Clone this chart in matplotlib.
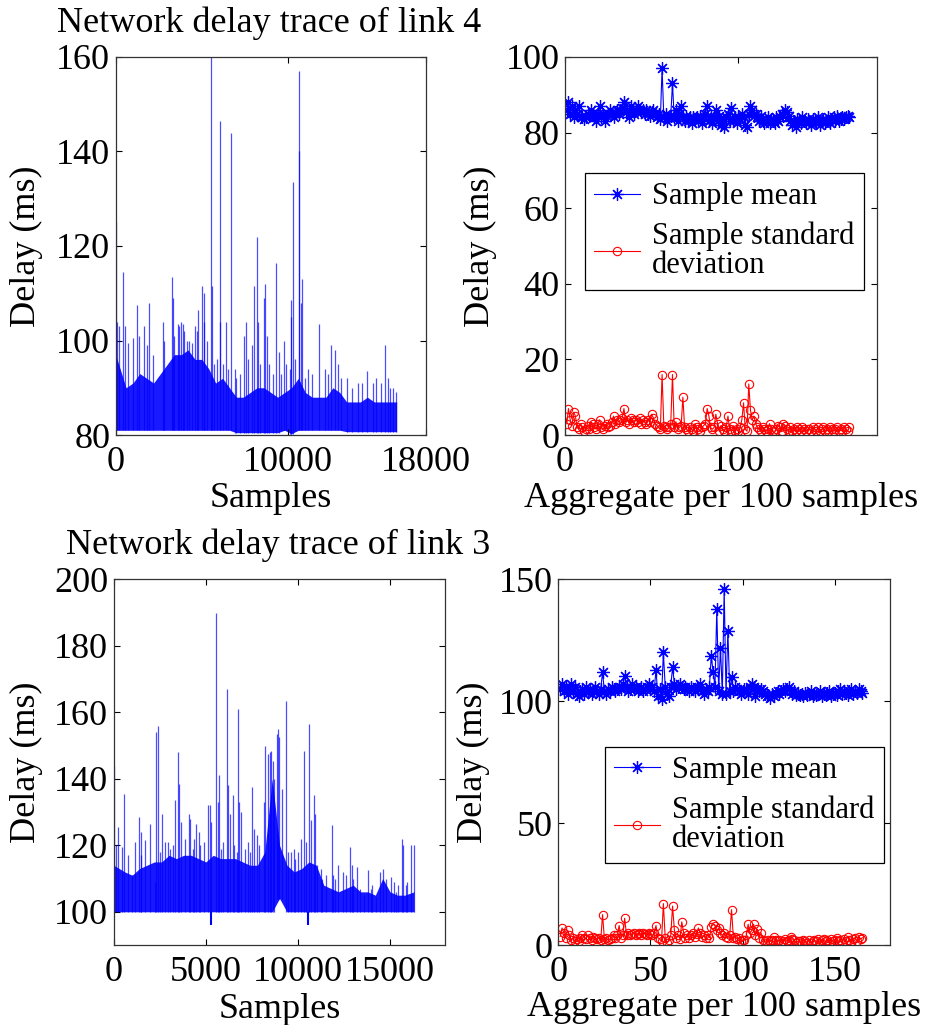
import numpy as np
import matplotlib
matplotlib.use('Agg')
import matplotlib.pyplot as plt

plt.rcParams['font.family'] = ['Liberation Serif', 'DejaVu Serif']
plt.rcParams['mathtext.default'] = 'regular'

# ---------------- link 4 raw trace ----------------
n_samples4 = 16300
bin_w = 400
# typical band top / bottom per 400-sample block
band_top4 = [97, 90, 91, 93, 92, 91, 93, 95, 97, 97, 98, 96, 96, 94, 91, 92, 90, 88, 88, 89, 90,
             90, 89, 88, 89, 90, 92, 89, 88, 88, 88, 90, 89, 87, 87, 87, 88, 87, 87, 87, 87]
band_lo4 = [81, 81, 81, 81, 81, 81, 81, 81, 81, 81, 81, 81, 81, 81, 81, 81, 81, 80.5, 80.5, 80.5, 80.5,
            80.5, 80.5, 80.5, 81, 80.3, 81, 81, 81, 81, 81, 81, 81, 80.7, 80.7, 80.7, 80.7, 80.7, 80.7, 80.7, 80.7]
# spikes sticking out of the band: sample index, delay
spike_x4 = [0, 60, 180, 444, 520, 733, 1023, 1255, 1370, 1640, 1795, 1930, 2180, 2720, 2800, 3243,
            3300, 3400, 3590, 3700, 3780, 3880, 3950, 4110, 4250, 4400, 4590, 4700, 4790, 4980, 5115,
            5150, 5300, 5520, 5580, 5700, 5900, 6040, 6080, 6200, 6390, 6500, 6680, 6910, 7000, 7200,
            7450, 7550, 7700, 7900, 8010, 8205, 8230, 8400, 8630, 8670, 8770, 8900, 9100, 9285, 9480,
            9600, 9750, 9900, 10100, 10155, 10190, 10290, 10400, 10620, 10640, 10730, 10830, 11000,
            11150, 11400, 11800, 12120, 12300, 12470, 12700, 12900, 13100, 13400, 13700, 14050, 14300,
            14600, 14900, 15100, 15400, 15640, 15800, 15900, 16100, 16280]
spike_y4 = [125, 104, 103, 114.5, 103, 99.5, 100.5, 107.5, 101, 103, 99, 108, 97, 104, 100, 113.5,
            109, 101, 103.5, 103, 104, 103.5, 102, 100, 100, 99.5, 103, 102, 106.5, 111.5, 110,
            104, 100, 160, 111.5, 95, 96, 146.5, 104, 95, 104, 94, 144, 94, 92, 93,
            101, 104, 96, 99, 111.5, 122, 104, 95, 109, 112, 101, 95, 93, 116.5, 97.5,
            93, 100, 95, 94, 105, 108.5, 133.5, 96, 140, 157, 108, 113, 92,
            94, 93, 103.5, 94, 93, 99, 98, 95, 92, 92, 90, 91, 91,
            93.5, 91, 92, 91, 99, 92, 90, 90, 89]

# ---------------- link 3 raw trace ----------------
n_samples3 = 16300
band_top3 = [114, 112, 111, 113, 114, 115, 115, 117, 116, 117, 117, 116, 115, 117, 116, 116, 116, 115,
             114, 114, 118, 140, 120, 114, 112, 113, 115, 114, 108, 107, 106, 107, 108, 106, 106, 105,
             110, 106, 105, 105, 106]
band_lo3 = [100] * 22 + [104] + [100] * 18
spike_x3 = [36, 100, 254, 453, 562, 800, 980, 1160, 1360, 1487, 1500, 1705, 1977, 2250, 2303, 2376,
            2500, 2612, 2793, 2940, 3060, 3200, 3319, 3482, 3536, 3663, 3880, 4062, 4153, 4300, 4334,
            4480, 4606, 4700, 4900, 5096, 5205, 5278, 5568, 5640, 5713, 5800, 5930, 6148, 6220, 6293,
            6456, 6510, 6700, 6764, 6819, 6910, 7100, 7272, 7400, 7508, 7635, 7780, 7900, 8143, 8233,
            8360, 8469, 8542, 8650, 8720, 8868, 8923, 8995, 9158, 9358, 9450, 9600, 9800, 9830, 10000,
            10192, 10355, 10460, 10609, 10718, 10863, 10918, 11050, 11226, 11330, 11500, 11824, 11900,
            12000, 12170, 12440, 12600, 12822, 12950, 13000, 13185, 13370, 13590, 13819, 13950, 14000,
            14220, 14450, 14635, 14760, 15034, 15200, 15300, 15450, 15633, 15700, 15850, 15940, 16158, 16290]
spike_y3 = [144, 120, 125.5, 119.5, 135.5, 117, 111, 121, 128.5, 124, 117, 121.5, 126.5, 109, 154, 156,
            118, 129.5, 121, 121, 119, 120, 133.5, 148, 138.5, 127, 122, 129.5, 128, 119, 122,
            126.5, 124, 120, 121, 132, 132, 127, 190, 133, 141, 119, 121, 167, 138, 129.5,
            135, 120, 118, 161, 133, 130, 119, 121, 118, 137.5, 125, 123, 120, 133, 150,
            147.5, 148, 148.5, 145.5, 140, 153.5, 155, 152.5, 137, 163.5, 118, 118, 119, 116, 118,
            122, 148.5, 121, 156.5, 127.5, 135, 129.5, 114, 113, 110, 111, 126, 111,
            110, 114, 112, 111, 119.5, 114, 110, 113.5, 107, 105, 112.5, 107, 108,
            104.5, 112, 113, 110, 110.5, 109, 106, 108, 122, 120, 108, 109, 120, 120]
dip_x3 = [5300, 10560]
dip_y3 = [96, 96]

# ---------------- aggregates per 100 samples ----------------
mean4 = [86, 88, 85, 87, 84, 86, 85, 87, 84, 84,
         83.5, 84, 85, 84.5, 86, 85, 84, 83, 85, 87,
         84, 85, 83, 84.5, 85, 86, 85, 84, 85.5, 86,
         85, 86, 86.5, 88, 85.5, 86, 84, 87, 86, 85,
         86, 87, 86, 85.5, 86, 85, 86, 85, 84.5, 85.5,
         86, 85, 84, 85, 83.5, 97, 84, 85, 83, 84,
         84.5, 93, 84, 86, 83, 85, 87, 84, 83, 84.5,
         83, 84, 82.5, 84, 83.5, 84, 83, 84.5, 82.5, 84,
         85, 87, 83, 84, 82.5, 84, 86, 83, 84.5, 82,
         83, 81.5, 84, 85, 83, 86.5, 83, 84, 82.5, 84,
         83.5, 85, 84, 82, 81.5, 85, 87, 86, 84.5, 85,
         84, 83, 84.5, 83, 82.5, 83, 84, 82.5, 83.5, 83,
         82.5, 84, 83, 84, 85, 84.5, 86, 85.5, 84.5, 83,
         82, 83, 81.5, 83.5, 83, 82.5, 84, 83, 82.5, 83.5,
         83, 82, 83.5, 83, 82.5, 84, 82, 83, 83.5, 82.5,
         83, 84, 82.5, 83.5, 84, 83, 84.5, 83, 83.5, 84,
         83.5, 84, 84.5, 84]
std4 = [3, 7, 4, 2.5, 6, 5, 2, 1.5, 3, 2,
        1, 1.5, 2.5, 1.5, 3.5, 3, 2, 1.5, 3, 4,
        2, 1.5, 2.5, 3, 2, 2.5, 3.5, 5, 3, 4,
        3.5, 4, 4.5, 7, 3.5, 4, 3, 4.5, 4, 3.5,
        4, 3.5, 4.5, 3, 4, 3.5, 3, 4, 3.5, 5.5,
        4.5, 3, 2.5, 2, 1.5, 16, 2.5, 2, 1.5, 2,
        3, 16, 2, 3.5, 1.5, 2, 2.5, 10, 2, 1.5,
        1, 2, 1.5, 1, 3, 2, 1.5, 1, 2, 2.5,
        3, 7, 5, 2, 1.5, 2, 5.5, 3, 1, 2.5,
        1.5, 1, 2, 5, 1.5, 1, 2.5, 1, 1.5, 1,
        2, 4, 8.5, 1.5, 1, 13.5, 6.5, 4, 5, 3,
        2, 1.5, 1, 2, 1.5, 1, 1.5, 3, 1.5, 1,
        1, 1.5, 2.5, 2, 1, 3, 2.5, 1.5, 1, 2,
        1, 1.5, 1, 2, 1.5, 1, 2, 1.5, 1, 1.5,
        1.5, 1, 2, 1.5, 1, 2, 1, 1.5, 2, 1,
        1.5, 1, 2, 1.5, 1, 1.5, 2, 1, 1.5, 1,
        2, 1.5, 1, 2]
mean3 = [105, 107, 104, 106, 103, 105, 107, 104, 106, 103,
         102, 104, 105, 103, 106, 104, 105, 103, 104, 106,
         104, 103, 105, 112, 104, 103, 105, 104, 106, 105,
         104, 105, 106, 105, 107, 110.5, 106, 104, 105, 107,
         105, 106, 104, 105, 106, 104, 105, 106, 107, 105,
         106, 104, 113, 102, 105, 101, 120, 106, 103, 102,
         106, 114, 107, 105, 106, 107, 106, 105, 106, 105,
         104, 106, 105, 104, 106, 105, 107, 104, 103, 105,
         104, 106, 118.5, 112, 106, 138, 104, 122, 103, 146,
         103, 129, 104, 110, 104, 106, 105, 104, 103, 104,
         105, 104, 103, 106, 107, 106, 102, 105, 104, 105,
         104, 103, 102, 102.5, 101.5, 103, 102, 103.5, 104, 103,
         104, 105, 104, 105, 106, 104, 103, 104, 102.5, 103,
         102.5, 103, 102, 103.5, 102.5, 103, 104, 102, 103, 102.5,
         103, 104, 102, 103, 102.5, 103.5, 104, 102, 103, 103.5,
         102.5, 104, 105, 103, 104, 103.5, 102.5, 104, 105, 103,
         104, 103.5, 105, 104, 103.5]
std3 = [3.5, 7, 5, 3, 6, 4, 2, 3, 1.5, 2.5,
        1.5, 3, 4, 3, 2.5, 4, 3, 2, 3.5, 3,
        2.5, 3, 2, 12.5, 2.5, 3, 2, 2.5, 3, 4,
        3, 4, 8, 3, 4, 11, 4, 5, 4, 4.5,
        5, 4, 4.5, 5, 4, 5, 4.5, 4, 5, 4.5,
        4, 5, 8, 3, 2.5, 1.5, 17, 3, 1, 2,
        4, 16, 6, 3, 4, 2.5, 9.5, 5, 3, 4,
        3, 4, 5, 3.5, 4.5, 7, 5, 3.5, 4, 3,
        4, 3, 7.5, 8.5, 8, 6, 7, 5, 4, 5,
        3.5, 3, 4, 14.5, 3, 3.5, 2.5, 3, 1.5, 2,
        2, 4, 8.5, 5, 6, 8.5, 4, 6.5, 3, 5,
        2, 1.5, 1, 2, 1.5, 2, 3.5, 2, 1.5, 2,
        1, 1.5, 2.5, 1.5, 2, 3.5, 2.5, 2, 1, 1.5,
        1.5, 1, 2, 1.5, 1, 2, 1, 1.5, 2, 1.5,
        2.5, 1, 2, 2.5, 1.5, 2, 1, 2.5, 1.5, 2,
        3, 1.5, 2, 1, 2.5, 1.5, 3.5, 2, 1, 2.5,
        3, 1.5, 3.5, 2.5, 3]

BLUE = '#0000ff'
RED = '#ff0000'
FS = 26
STAR = (8, 2, 0)  # matlab-like asterisk


def style(ax, xlim, ylim, xticks, yticks):
    ax.set_xlim(*xlim)
    ax.set_ylim(*ylim)
    ax.set_xticks(xticks)
    ax.set_yticks(yticks)
    ax.tick_params(direction='in', top=True, right=True, length=4, width=0.8,
                   labelsize=FS, colors='black')
    ax.tick_params(axis='x', pad=8)
    ax.tick_params(axis='y', pad=4)
    for s in ax.spines.values():
        s.set_linewidth(0.9)
        s.set_color('#333333')


def draw_trace(ax, n, top, lo, sx, sy, dx=None, dy=None):
    # band drawn through block centres, ends pinned to first / last sample
    xc = np.minimum(np.arange(len(top)) * bin_w + bin_w / 2, n)
    xc[0] = 0
    xc[-1] = n
    ax.fill_between(xc, lo, top, color=BLUE, lw=0, alpha=0.9)
    base = [lo[min(int(x // bin_w), len(lo) - 1)] for x in sx]
    ax.vlines(sx, base, sy, color=BLUE, lw=0.9, alpha=0.7)
    if dx is not None:
        ax.vlines(dx, [lo[int(x // bin_w)] for x in dx], dy, color=BLUE, lw=1.5)


def draw_agg(ax, mean, std, loc):
    idx = np.arange(1, len(mean) + 1)
    ax.plot(idx, mean, '-', marker=STAR, color=BLUE, lw=0.8, ms=9, mew=0.9, label='Sample mean')
    ax.plot(idx, std, '-o', color=RED, lw=0.8, ms=6, mew=0.8, mfc='none',
            label='Sample standard\ndeviation')
    leg = ax.legend(loc='upper left', bbox_to_anchor=loc, fontsize=22, frameon=True,
                    fancybox=False, edgecolor='black', framealpha=1, numpoints=1,
                    handlelength=1.5, handletextpad=0.4, borderpad=0.3, labelspacing=0.35,
                    borderaxespad=0)
    leg.get_frame().set_linewidth(0.9)
    for t in leg.get_texts():
        t.set_linespacing(1.0)


fig = plt.figure(figsize=(9.27, 10.25), dpi=100)

# top left
ax1 = fig.add_axes([0.1248, 0.5756, 0.3347, 0.3688])
draw_trace(ax1, n_samples4, band_top4, band_lo4, spike_x4, spike_y4)
style(ax1, (0, 18000), (80, 160), [0, 10000, 18000], [80, 100, 120, 140, 160])
ax1.set_xlabel('Samples', fontsize=FS)
ax1.set_ylabel('Delay (ms)', fontsize=FS)
ax1.xaxis.set_label_coords(0.5, -0.125)
ax1.yaxis.set_label_coords(-0.234, 0.5)

# top right
ax2 = fig.add_axes([0.6095, 0.5756, 0.3366, 0.3688])
draw_agg(ax2, mean4, std4, (0.064, 0.693))
style(ax2, (0, 180), (0, 100), [0, 100], [0, 20, 40, 60, 80, 100])
ax2.set_xlabel('Aggregate per 100 samples', fontsize=FS)
ax2.set_ylabel('Delay (ms)', fontsize=FS)
ax2.xaxis.set_label_coords(0.5, -0.125)
ax2.yaxis.set_label_coords(-0.218, 0.5)

# bottom left
ax3 = fig.add_axes([0.1227, 0.0780, 0.3577, 0.3568])
draw_trace(ax3, n_samples3, band_top3, band_lo3, spike_x3, spike_y3, dip_x3, dip_y3)
style(ax3, (0, 18000), (90, 200), [0, 5000, 10000, 15000], [100, 120, 140, 160, 180, 200])
ax3.set_xlabel('Samples', fontsize=FS)
ax3.set_ylabel('Delay (ms)', fontsize=FS)
ax3.xaxis.set_label_coords(0.5, -0.13)
ax3.yaxis.set_label_coords(-0.213, 0.5)

# bottom right
ax4 = fig.add_axes([0.6023, 0.0780, 0.3578, 0.3568])
draw_agg(ax4, mean3, std3, (0.141, 0.542))
style(ax4, (0, 180), (0, 150), [0, 50, 100, 150], [0, 50, 100, 150])
ax4.set_xlabel('Aggregate per 100 samples', fontsize=FS)
ax4.set_ylabel('Delay (ms)', fontsize=FS)
ax4.xaxis.set_label_coords(0.5, -0.125)
ax4.yaxis.set_label_coords(-0.206, 0.5)

fig.text(269 / 927, 1 - 32 / 1025, 'Network delay trace of link 4', ha='center', va='baseline', fontsize=26)
fig.text(278 / 927, 1 - 554 / 1025, 'Network delay trace of link 3', ha='center', va='baseline', fontsize=26)

fig.savefig('out.png', dpi=100)
